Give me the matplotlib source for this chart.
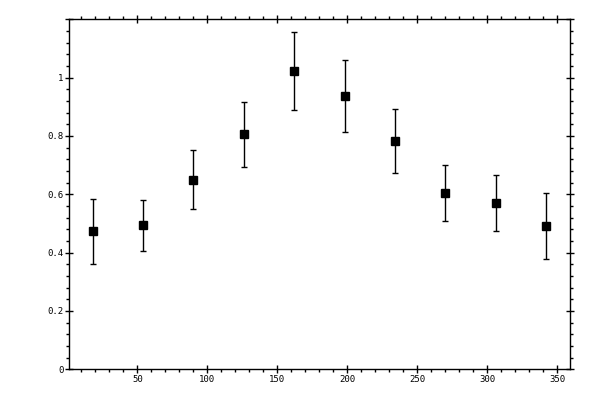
import matplotlib
matplotlib.use('Agg')
from matplotlib import pyplot as plt
from matplotlib.ticker import MultipleLocator, FuncFormatter

# angle (deg), measured value, error
angle = [18, 54, 90, 126, 162, 198, 234, 270, 306, 342]
value = [0.473, 0.493, 0.650, 0.805, 1.024, 0.938, 0.783, 0.606, 0.571, 0.490]
err = [0.111, 0.089, 0.102, 0.113, 0.134, 0.124, 0.111, 0.096, 0.096, 0.113]

fig = plt.figure(figsize=(6, 4), dpi=100)
ax = fig.add_axes([0.1155, 0.0768, 0.8345, 0.875])

ax.errorbar(angle, value, yerr=err, fmt='s', color='black', ms=5.2,
            elinewidth=1, capsize=2.5, capthick=1)

ax.set_xlim(1.4, 359)
ax.set_ylim(0, 1.2)
ax.xaxis.set_major_locator(MultipleLocator(50))
ax.xaxis.set_minor_locator(MultipleLocator(10))
ax.yaxis.set_major_locator(MultipleLocator(0.2))
ax.yaxis.set_minor_locator(MultipleLocator(0.04))
# no label at the top edge (1.2)
ax.yaxis.set_major_formatter(
    FuncFormatter(lambda v, p: '' if v > 1.1 else '%g' % round(v, 2)))

ax.tick_params(which='major', direction='inout', length=5.6, width=1,
               top=True, right=True, labelsize=6.5, pad=1.5)
ax.tick_params(which='minor', direction='out', length=2.4, width=1,
               top=True, right=True)
for lab in ax.get_xticklabels() + ax.get_yticklabels():
    lab.set_family('DejaVu Sans Mono')
for s in ax.spines.values():
    s.set_linewidth(1)

fig.savefig('out.png', dpi=100)
